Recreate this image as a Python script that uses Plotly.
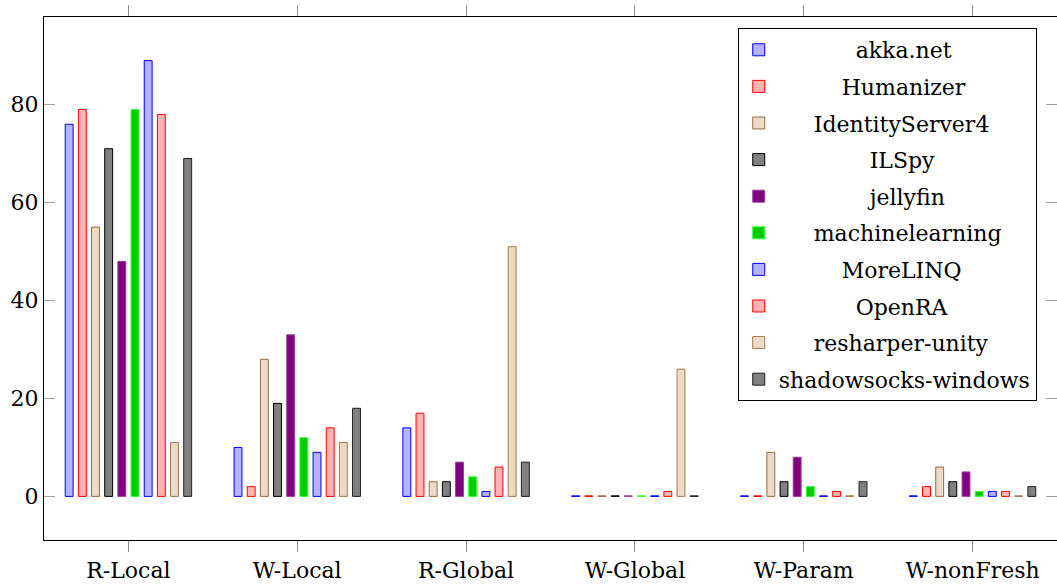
import plotly.graph_objects as go

categories = ["R-Local", "W-Local", "R-Global", "W-Global", "W-Param", "W-nonFresh"]
projects = ["akka.net", "Humanizer", "IdentityServer4", "ILSpy", "jellyfin",
            "machinelearning", "MoreLINQ", "OpenRA", "resharper-unity", "shadowsocks-windows"]

akka_net = [76, 10, 14, 0, 0, 0]
humanizer = [79, 2, 17, 0, 0, 2]
identityserver4 = [55, 28, 3, 0, 9, 6]
ilspy = [71, 19, 3, 0, 3, 3]
jellyfin = [48, 33, 7, 0, 8, 5]
machinelearning = [79, 12, 4, 0, 2, 1]
morelinq = [89, 9, 1, 0, 0, 1]
openra = [78, 14, 6, 1, 1, 1]
resharper_unity = [11, 11, 51, 26, 0, 0]
shadowsocks_windows = [69, 18, 7, 0, 3, 2]

series = [akka_net, humanizer, identityserver4, ilspy, jellyfin,
          machinelearning, morelinq, openra, resharper_unity, shadowsocks_windows]

fills = ["#b3b3ff", "#ffb3b3", "#ecd9c6", "#808080", "#800080",
         "#00cc00", "#b3b3ff", "#ffb3b3", "#ecd9c6", "#808080"]
lines = ["#0000ff", "#ff0000", "#9a6a40", "#000000", "#9a409a",
         "#33ff33", "#0000ff", "#ff0000", "#a07850", "#202020"]

FONT = "DejaVu Serif"
FS = 22

# approximate DejaVu Serif advance widths (em) to centre legend labels
_W = {'a': .596, 'k': .603, '.': .318, 'n': .644, 'e': .592, 't': .402, 'H': .872,
      'u': .644, 'm': .948, 'i': .320, 'z': .525, 'r': .478, 'I': .472, 'd': .640,
      'y': .565, 'S': .685, 'v': .565, '4': .636, 'L': .637, 'p': .640, 'j': .320,
      'l': .320, 'f': .370, 'c': .560, 'h': .644, 'g': .640, 'M': .995, 'N': .876,
      'Q': .820, 'O': .820, 'R': .770, 'A': .722, 's': .513, 'o': .602, 'w': .856,
      '-': .338}
def _width(s):
    return sum(_W.get(ch, 0.6) for ch in s)
_wmax = max(_width(p) for p in projects)
def centred(s):
    n = int(round((_wmax - _width(s)) / 2 / 0.318))
    return "\u00a0" * n + s

fig = go.Figure()
for name, vals, fc, lc in zip(projects, series, fills, lines):
    # zero-height bars are drawn as a thin dash like the reference
    shown = [v if v > 0 else 0.12 for v in vals]
    fig.add_trace(go.Bar(
        x=categories, y=shown, name=centred(name), legendgroup=name,
        customdata=vals, hovertemplate="%{x}: %{customdata}<extra>" + name + "</extra>",
        marker=dict(color=fc, line=dict(color=lc, width=1)),
    ))

fig.update_layout(
    width=1057, height=586,
    margin=dict(l=44, r=0, t=17, b=46, autoexpand=False),
    paper_bgcolor="white", plot_bgcolor="white",
    barmode="group", bargap=0.22, bargroupgap=0.4,
    font=dict(family=FONT, size=FS, color="black"),
    showlegend=True,
    legend=dict(
        x=0.98, y=0.979, xanchor="right", yanchor="top",
        bgcolor="white", bordercolor="black", borderwidth=1,
        font=dict(family=FONT, size=FS, color="black"),
        tracegroupgap=5, itemwidth=30,
    ),
)
fig.update_xaxes(
    showline=True, linecolor="black", linewidth=1, mirror="ticks",
    ticks="outside", ticklen=11, tickcolor="#8c8c8c", tickwidth=1,
    showgrid=False, tickfont=dict(family=FONT, size=FS, color="black"),
)
fig.update_yaxes(
    range=[-8.9, 97.9], tickvals=[0, 20, 40, 60, 80],
    showline=True, linecolor="black", linewidth=1, mirror="ticks",
    ticks="inside", ticklen=11, tickcolor="#a0a0a0", tickwidth=1,
    showgrid=False, zeroline=False, tickfont=dict(family=FONT, size=FS, color="black"),
)

fig.write_html("out.html")
